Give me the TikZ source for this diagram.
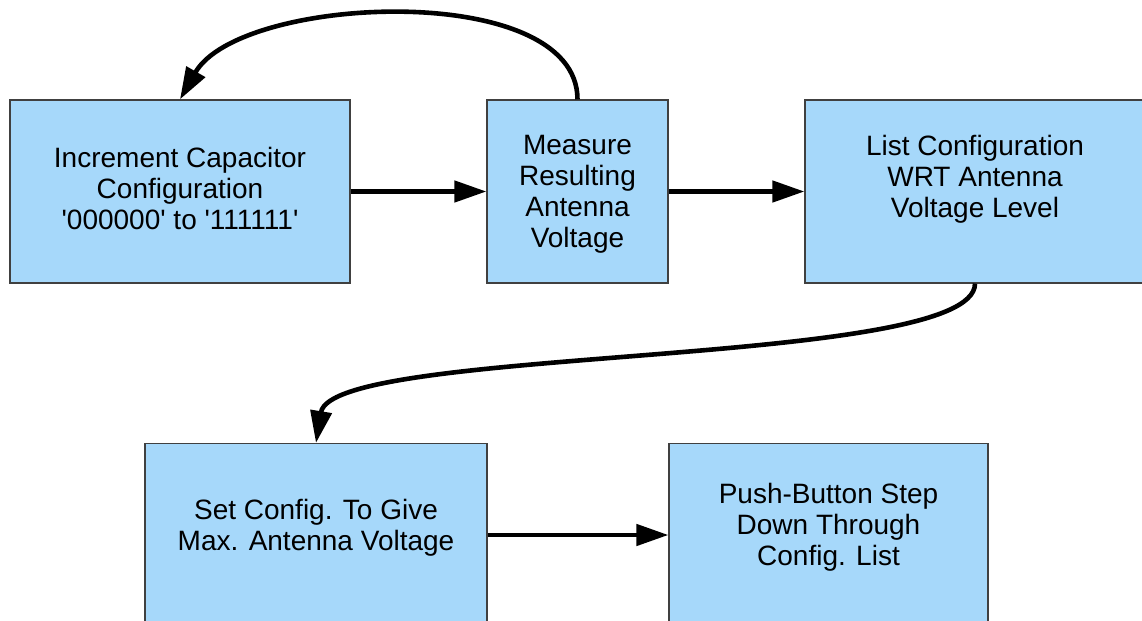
\documentclass[tikz,border=0pt]{standalone}
\usepackage{fontspec}
\setmainfont{Liberation Sans}
\usepackage{tikz}
\usetikzlibrary{arrows.meta, positioning}
\definecolor{boxblue}{RGB}{166,216,250}

\begin{document}
\begin{tikzpicture}[
    x=0.5pt, y=-0.5pt,
    flowbox/.style={rectangle, draw=black!75, fill=boxblue, line width=0.6pt, align=center, font=\fontsize{14}{15.5}\selectfont, inner sep=0pt, minimum height=91.5pt},
    arrblack/.style={-{Triangle[length=16pt, width=10.5pt]}, line width=2.3pt, black},
  ]
    \useasboundingbox (0,0) rectangle (1142,621);
    \clip (0,0) rectangle (1142,621);
    \node[flowbox, minimum width=170pt, text depth=3pt] (increment) at (180,191.5) {
      Increment Capacitor\\Configuration\\\textquotesingle000000\textquotesingle{} to \textquotesingle111111\textquotesingle
    };
    \node[flowbox, minimum width=90.5pt, text depth=-3pt] (measure) at (577.5,191.5) {
      Measure\\Resulting\\Antenna\\Voltage
    };
    \node[flowbox, minimum width=170pt, text depth=15pt] (listcfg) at (975,191.5) {
      List Configuration\\WRT Antenna\\Voltage Level
    };
    \node[flowbox, minimum width=171pt, text depth=10pt] (setcfg) at (316,535) {
      Set Config. To Give\\Max. Antenna Voltage
    };
    \node[flowbox, minimum width=159.5pt, text depth=11pt] (pushbtn) at (828.5,535) {
      Push-Button Step\\Down Through\\Config. List
    };
    \draw[arrblack] (increment) -- (measure);
    \draw[arrblack] (measure) -- (listcfg);
    \draw[arrblack] (setcfg) -- (pushbtn);
    \draw[arrblack] (measure.north) .. controls +(0,-120) and +(60,-105) .. (increment.north);
    \draw[arrblack] (listcfg.south) .. controls +(0,85) and +(16,-98) .. (setcfg.north);
  \end{tikzpicture}
\end{document}
